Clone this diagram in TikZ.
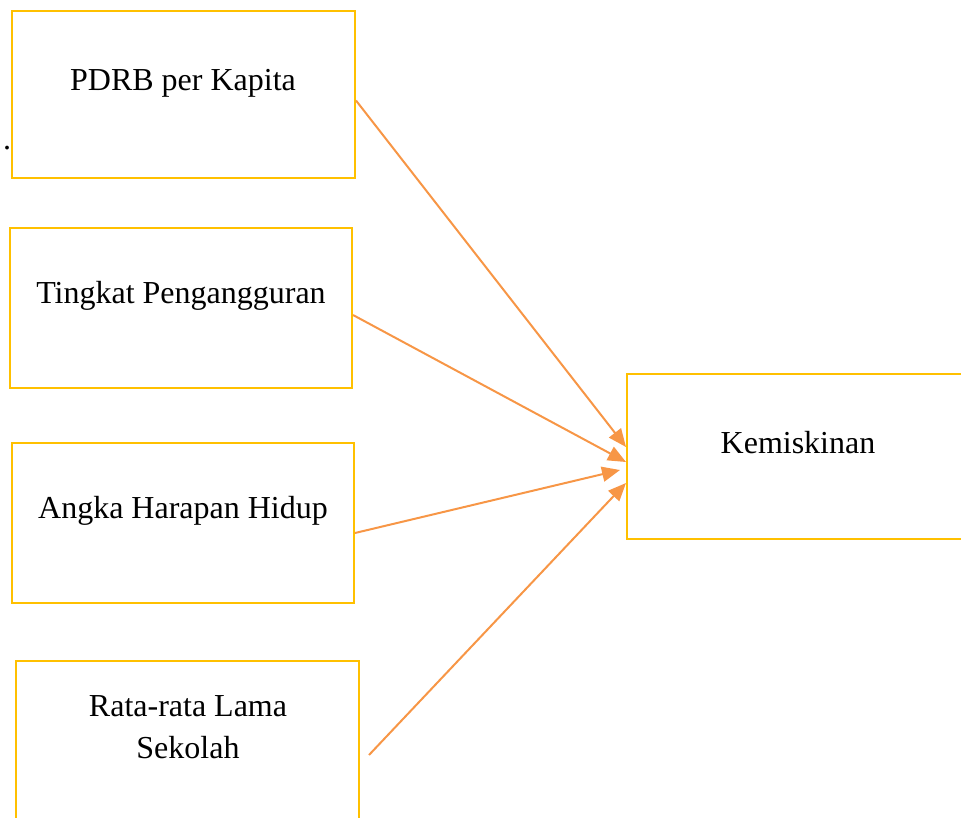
\documentclass[tikz,border=0pt]{standalone}
\usepackage{fontspec}
\setmainfont{Liberation Serif}
\usetikzlibrary{arrows.meta,calc}
\definecolor{boxgold}{HTML}{FFC000}
\definecolor{arrorange}{HTML}{F79646}
\begin{document}
\begin{tikzpicture}[x=1pt,y=-1pt,
  varbox/.style={draw=boxgold,line width=2pt,rectangle,inner sep=0pt},
  lbl/.style={anchor=base,font=\fontsize{32}{40}\selectfont,inner sep=0pt,align=center},
  conn/.style={draw=arrorange,line width=2pt,-{Triangle[length=18pt,width=15pt]}}]
\useasboundingbox (0,0) rectangle (961,818);
\clip (0,0) rectangle (961,818);
\node[varbox,minimum width=343pt,minimum height=167pt] (b1) at (183.5,94.5) {};
\node[varbox,minimum width=342pt,minimum height=160pt] (b2) at (181,308) {};
\node[varbox,minimum width=342pt,minimum height=160pt] (b3) at (183,523) {};
\node[varbox,minimum width=343pt,minimum height=200pt] (b4) at (187.5,761) {};
\node[varbox,minimum width=360pt,minimum height=165pt] (k) at (807,456.5) {};
\node[lbl] (t1) at (183,91) {PDRB per Kapita};
\node[lbl] (t2) at (181,304) {Tingkat Pengangguran};
\node[lbl] (t3) at (183,518) {Angka Harapan Hidup};
\node[lbl] (t4) at (188,716) {Rata-rata Lama};
\node[lbl] (t4b) at (188,758) {Sekolah};
\node[lbl] (tk) at (798,453) {Kemiskinan};
\node[lbl] (dot) at (7,150) {.};
\draw[conn] ([yshift=-6pt]b1.east) -- ([yshift=9.5pt]k.west);
\draw[conn] ([yshift=-7pt]b2.east) -- ([yshift=-5.5pt]k.west);
\draw[conn] ([yshift=-10pt]b3.east) -- ([xshift=-6pt,yshift=-13.5pt]k.west);
\draw[conn] ([xshift=9pt,yshift=6pt]b4.east) -- ([yshift=-26.5pt]k.west);
\end{tikzpicture}
\end{document}
